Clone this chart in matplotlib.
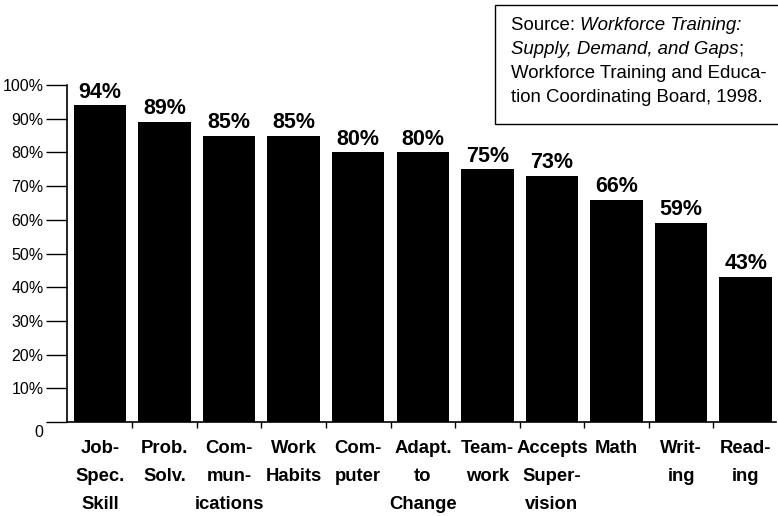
import matplotlib
matplotlib.use("Agg")
import matplotlib.pyplot as plt
import matplotlib.transforms as mtransforms
import numpy as np

categories = ["Job-\nSpec.\nSkill", "Prob.\nSolv.", "Com-\nmun-\nications", "Work\nHabits",
              "Com-\nputer", "Adapt.\nto\nChange", "Team-\nwork", "Accepts\nSuper-\nvision",
              "Math", "Writ-\ning", "Read-\ning"]
values = [94, 89, 85, 85, 80, 80, 75, 73, 66, 59, 43]
ytick_vals = [0, 10, 20, 30, 40, 50, 60, 70, 80, 90, 100]
ytick_labels = ["0", "10%", "20%", "30%", "40%", "50%", "60%", "70%", "80%", "90%", "100%"]

plt.rcParams['font.family'] = ['Liberation Sans', 'DejaVu Sans']

W, H = 778, 516
fig = plt.figure(figsize=(W / 100, H / 100), dpi=100)
ax = fig.add_axes([67 / W, (H - 422) / H, (776 - 67) / W, (422 - 85) / H])

x = np.arange(len(values))
ax.bar(x, values, width=0.81, color="black")

for xi, v in zip(x, values):
    ax.text(xi, v + 0.8, f"{v}%", ha="center", va="bottom",
            fontsize=15.5, fontweight="bold")

ax.set_xlim(-0.51, len(values) - 0.53)
ax.set_ylim(0, 100)

ax.set_yticks(ytick_vals)
ax.set_yticklabels(ytick_labels, fontsize=11.5)
ax.tick_params(axis="y", direction="out", length=15, width=1, pad=2)
# the zero label sits a little below its tick
zero_lbl = ax.get_yticklabels()[0]
zero_lbl.set_transform(zero_lbl.get_transform() +
                       mtransforms.ScaledTranslation(0, -9 / 100, fig.dpi_scale_trans))

ax.set_xticks(x)
ax.set_xticklabels(categories, fontsize=13.3, fontweight="bold", linespacing=1.85, va="top")
ax.tick_params(axis="x", length=0, pad=13)
ax.set_xticks(np.arange(len(values) - 1) + 0.5, minor=True)
ax.tick_params(axis="x", which="minor", direction="out", length=4, width=1)

for side in ("top", "right"):
    ax.spines[side].set_visible(False)
ax.spines["left"].set_linewidth(1.2)
ax.spines["bottom"].set_linewidth(1.2)

# source note box in the upper right corner
fig.patches.append(plt.Rectangle((495 / W, (H - 124) / H), (W - 495) / W + 0.01, 119 / H,
                                 transform=fig.transFigure, fill=False,
                                 edgecolor="black", linewidth=1))
fs = 13.4
tx = 511 / W
lines_y = [25, 49, 74, 98]
renderer = fig.canvas.get_renderer()


def run(pieces, y):
    """Draw a line made of (text, style) pieces placed one after another."""
    xpos = tx
    for s, style in pieces:
        t = fig.text(xpos, 1 - y / H, s, fontsize=fs, va="center", style=style)
        bb = t.get_window_extent(renderer=renderer)
        xpos = bb.x1 / W


run([("Source: ", "normal"), ("Workforce Training:", "italic")], lines_y[0])
run([("Supply, Demand, and Gaps", "italic"), (";", "normal")], lines_y[1])
run([("Workforce Training and Educa-", "normal")], lines_y[2])
run([("tion Coordinating Board, 1998.", "normal")], lines_y[3])

fig.savefig("out.png", dpi=100)
